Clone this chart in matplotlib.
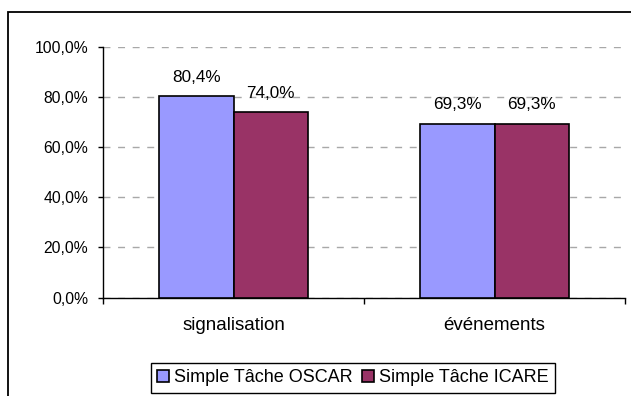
import matplotlib
matplotlib.use("Agg")
import matplotlib.pyplot as plt
from matplotlib.patches import Rectangle, Patch

categories = ["signalisation", "événements"]
series_names = ["Simple Tâche OSCAR", "Simple Tâche ICARE"]
oscar = [0.804, 0.693]
icare = [0.740, 0.693]
yticks = [0.0, 0.2, 0.4, 0.6, 0.8, 1.0]
ytick_labels = ["0,0%", "20,0%", "40,0%", "60,0%", "80,0%", "100,0%"]
colors = ["#9999FF", "#993366"]

plt.rcParams['font.family'] = ['Liberation Sans', 'DejaVu Sans']

W, H = 631, 396
fig = plt.figure(figsize=(W / 100, H / 100), dpi=100)
ax = fig.add_axes([103 / W, 1 - 297.5 / H, (625 - 103) / W, (297.5 - 47) / H])

bw = 0.285
x = list(range(len(categories)))
for i, (vals, c) in enumerate(zip([oscar, icare], colors)):
    offs = -bw / 2 if i == 0 else bw / 2
    pos = [xi + offs for xi in x]
    ax.bar(pos, vals, width=bw, color=c, edgecolor="black", linewidth=1.2, zorder=3)
    for p, v in zip(pos, vals):
        ax.annotate(f"{v*100:.1f}%".replace(".", ","), (p, v), xytext=(0, 10.5),
                    textcoords="offset points", ha="center", va="baseline",
                    fontsize=12.3, color="black")

ax.set_xlim(-0.5, len(categories) - 0.5)
ax.set_ylim(0, 1.0)
ax.set_yticks(yticks)
ax.set_yticklabels(ytick_labels, fontsize=11.3)
ax.set_xticks(x)
ax.set_xticklabels(categories, fontsize=13.5)
ax.set_xticks([-0.5, 0.5, 1.5], minor=True)
ax.tick_params(axis="x", which="major", length=0, pad=14)
ax.tick_params(axis="x", which="minor", length=4, width=1, direction="out")
ax.tick_params(axis="y", length=3.6, width=1, direction="out", pad=7)

ax.yaxis.grid(True, color="#a8a8a8", linestyle=(0, (5, 5.5)), linewidth=1.0, zorder=0)
ax.set_axisbelow(True)
for s in ["top", "right"]:
    ax.spines[s].set_visible(False)
for s in ["left", "bottom"]:
    ax.spines[s].set_linewidth(1.0)
    ax.spines[s].set_color("black")

handles = [Patch(facecolor=c, edgecolor="black", linewidth=1.2) for c in colors]
leg = fig.legend(handles, series_names, loc="upper left",
                 bbox_to_anchor=(151 / W, 1 - 363 / H), ncol=2, fontsize=13,
                 frameon=True, fancybox=False, shadow=False, framealpha=1,
                 edgecolor="black", borderaxespad=0, handlelength=0.65,
                 handleheight=0.65, handletextpad=0.3, columnspacing=0.5,
                 borderpad=0.35)
leg.get_frame().set_linewidth(1.0)

border = Rectangle((8 / W, -0.2), 2, (1 - 12 / H) + 0.2, transform=fig.transFigure,
                   fill=False, edgecolor="black", linewidth=1.3, clip_on=False)
fig.patches.append(border)

fig.savefig("out.png", dpi=100)
